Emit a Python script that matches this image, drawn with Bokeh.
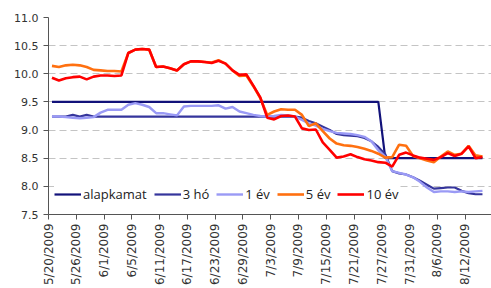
import math
from bokeh.plotting import figure
from bokeh.models import Range1d, FixedTicker, NumeralTickFormatter, Legend, LegendItem
from bokeh.embed import file_html
from bokeh.resources import INLINE

dates = ["5/20/2009", "5/21/2009", "5/22/2009", "5/25/2009", "5/26/2009", "5/27/2009", "5/28/2009",
         "5/29/2009", "6/1/2009", "6/2/2009", "6/3/2009", "6/4/2009", "6/5/2009", "6/8/2009",
         "6/9/2009", "6/10/2009", "6/11/2009", "6/12/2009", "6/15/2009", "6/16/2009", "6/17/2009",
         "6/18/2009", "6/19/2009", "6/22/2009", "6/23/2009", "6/24/2009", "6/25/2009", "6/26/2009",
         "6/29/2009", "6/30/2009", "7/1/2009", "7/2/2009", "7/3/2009", "7/6/2009", "7/7/2009",
         "7/8/2009", "7/9/2009", "7/10/2009", "7/13/2009", "7/14/2009", "7/15/2009", "7/16/2009",
         "7/17/2009", "7/20/2009", "7/21/2009", "7/22/2009", "7/23/2009", "7/24/2009", "7/27/2009",
         "7/28/2009", "7/29/2009", "7/30/2009", "7/31/2009", "8/3/2009", "8/4/2009", "8/5/2009",
         "8/6/2009", "8/7/2009", "8/10/2009", "8/11/2009", "8/12/2009", "8/13/2009", "8/14/2009"]

alapkamat = [9.5, 9.5, 9.5, 9.5, 9.5, 9.5, 9.5, 9.5, 9.5, 9.5, 9.5, 9.5, 9.5, 9.5, 9.5, 9.5,
             9.5, 9.5, 9.5, 9.5, 9.5, 9.5, 9.5, 9.5, 9.5, 9.5, 9.5, 9.5, 9.5, 9.5, 9.5, 9.5,
             9.5, 9.5, 9.5, 9.5, 9.5, 9.5, 9.5, 9.5, 9.5, 9.5, 9.5, 9.5, 9.5, 9.5, 9.5, 9.5,
             8.5, 8.5, 8.5, 8.5, 8.5, 8.5, 8.5, 8.5, 8.5, 8.5, 8.5, 8.5, 8.5, 8.5, 8.5]

ho3 = [9.24, 9.24, 9.24, 9.27, 9.24, 9.27, 9.24, 9.24, 9.24, 9.24, 9.24, 9.24, 9.24, 9.24, 9.24, 9.24,
       9.24, 9.24, 9.24, 9.24, 9.24, 9.24, 9.24, 9.24, 9.24, 9.24, 9.24, 9.24, 9.24, 9.24, 9.24, 9.24,
       9.24, 9.24, 9.24, 9.24, 9.22, 9.16, 9.12, 9.06, 9.00, 8.93, 8.91, 8.90, 8.89, 8.86, 8.80, 8.70,
       8.57, 8.27, 8.23, 8.21, 8.16, 8.10, 8.03, 7.96, 7.97, 7.98, 7.98, 7.92, 7.88, 7.86, 7.86]

ev1 = [9.24, 9.24, 9.23, 9.22, 9.21, 9.22, 9.23, 9.31, 9.36, 9.36, 9.36, 9.45, 9.48, 9.45, 9.41, 9.30,
       9.30, 9.28, 9.26, 9.42, 9.43, 9.43, 9.43, 9.43, 9.44, 9.38, 9.41, 9.33, 9.30, 9.27, 9.25, 9.24,
       9.25, 9.27, 9.26, 9.24, 9.18, 9.12, 9.08, 9.02, 8.98, 8.95, 8.94, 8.93, 8.91, 8.88, 8.80, 8.64,
       8.53, 8.27, 8.24, 8.21, 8.16, 8.08, 7.98, 7.90, 7.91, 7.91, 7.90, 7.91, 7.90, 7.91, 7.92]

ev5 = [10.14, 10.12, 10.15, 10.16, 10.15, 10.12, 10.07, 10.06, 10.05, 10.05, 10.04, 10.37, 10.43, 10.44,
       10.43, 10.12, 10.13, 10.10, 10.06, 10.17, 10.22, 10.22, 10.21, 10.20, 10.24, 10.18, 10.06, 9.96,
       9.97, 9.78, 9.57, 9.27, 9.33, 9.37, 9.36, 9.36, 9.27, 9.07, 9.12, 8.98, 8.85, 8.76, 8.73, 8.72,
       8.70, 8.67, 8.63, 8.58, 8.51, 8.52, 8.74, 8.72, 8.54, 8.50, 8.46, 8.43, 8.53, 8.62, 8.56, 8.58,
       8.72, 8.55, 8.53]

ev10 = [9.93, 9.88, 9.92, 9.94, 9.95, 9.90, 9.95, 9.97, 9.97, 9.96, 9.97, 10.37, 10.43, 10.44,
        10.43, 10.12, 10.13, 10.10, 10.06, 10.17, 10.22, 10.22, 10.21, 10.19, 10.23, 10.18, 10.06, 9.98,
        9.99, 9.79, 9.58, 9.22, 9.19, 9.25, 9.26, 9.24, 9.03, 9.00, 9.01, 8.78, 8.65, 8.51, 8.53, 8.57,
        8.52, 8.48, 8.46, 8.43, 8.42, 8.35, 8.56, 8.60, 8.55, 8.51, 8.49, 8.47, 8.52, 8.59, 8.54, 8.58,
        8.71, 8.50, 8.52]

series_names = ["alapkamat", "3 hó", "1 év", "5 év", "10 év"]
series_values = [alapkamat, ho3, ev1, ev5, ev10]
series_colors = ["#12127a", "#35359c", "#9a9af5", "#ff7010", "#ff0000"]
series_widths = [2.2, 2.2, 2.4, 2.6, 2.6]

y_ticks = [7.5, 8.0, 8.5, 9.0, 9.5, 10.0, 10.5, 11.0]
x_tick_idx = [0, 4, 8, 12, 16, 20, 24, 28, 32, 36, 40, 44, 48, 52, 56, 60]

xs = [i + 0.5 for i in range(len(dates))]

p = figure(width=491, height=288, output_backend="svg", toolbar_location=None,
           x_range=Range1d(0, 63.8), y_range=Range1d(7.5, 11.0),
           min_border_left=48, min_border_top=17, min_border_right=0, min_border_bottom=72)
p.outline_line_color = None
p.background_fill_color = "white"

p.xgrid.visible = False
p.ygrid.grid_line_color = "#c4c4c4"
p.ygrid.grid_line_dash = "7 4"
p.ygrid.grid_line_width = 1

p.yaxis.ticker = FixedTicker(ticks=y_ticks)
p.yaxis.formatter = NumeralTickFormatter(format="0.0")
p.xaxis.ticker = FixedTicker(ticks=x_tick_idx)
p.xaxis.major_label_overrides = {t: dates[t] for t in x_tick_idx}
p.xaxis.major_label_orientation = math.pi / 2

for ax in (p.xaxis, p.yaxis):
    ax.axis_line_color = "#555555"
    ax.axis_line_width = 1
    ax.major_tick_line_color = "#555555"
    ax.major_tick_in = 0
    ax.major_tick_out = 5
    ax.minor_tick_line_color = None
    ax.major_label_text_font = "DejaVu Sans"
    ax.major_label_text_color = "#333333"
p.yaxis.major_label_text_font_size = "11px"
p.xaxis.major_label_text_font_size = "12px"
p.yaxis.major_label_standoff = 5
p.xaxis.major_label_standoff = 4

items = []
for name, vals, col, w in zip(series_names, series_values, series_colors, series_widths):
    r = p.line(xs, vals, line_color=col, line_width=w)
    items.append(LegendItem(label=name, renderers=[r]))

legend = Legend(items=items, orientation="horizontal", location=(6, 10))
legend.label_text_font = "Open Sans"
legend.label_text_font_size = "13px"
legend.label_text_color = "#222222"
legend.glyph_width = 27
legend.label_standoff = 2
legend.spacing = 7
legend.padding = 4
legend.border_line_color = None
legend.background_fill_color = "white"
legend.background_fill_alpha = 1.0
p.add_layout(legend)

open("out.html", "w").write(file_html(p, INLINE))
